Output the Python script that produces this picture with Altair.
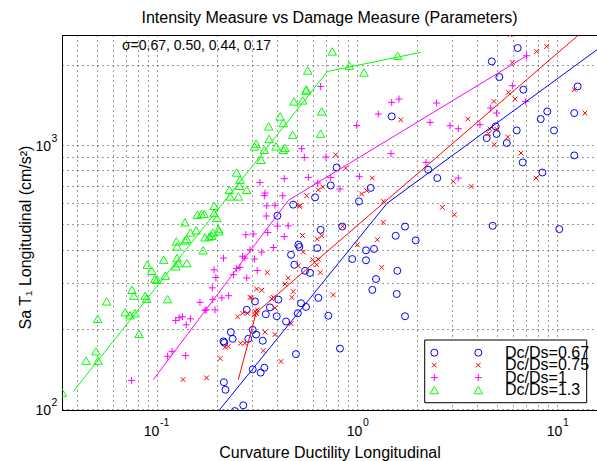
import altair as alt
import pandas as pd

FONT = "Liberation Sans"

# ---------------- data ----------------
blue_x = [6.36, 4.72, 5.15, 6.79, 12.69, 8.94, 8.29, 12.2, 1.491, 9.66, 6.29, 4.94, 4.45, 4.99, 5.61,
          12.2, 6.74, 8.45, 0.791, 2.27, 2.52, 0.739, 0.617, 1.171, 1.023, 1.738, 4.77, 10.27, 0.844,
          0.658, 1.561, 1.966, 0.633, 1.109, 1.216, 0.947, 1.109, 1.591, 0.582, 1.245, 1.193, 1.580,
          0.641, 0.556, 0.719, 1.738, 0.822, 0.480, 0.400, 0.509, 0.515, 0.468, 0.486, 0.550, 0.309,
          0.404, 0.367, 0.350, 0.397, 0.281, 0.525, 0.506, 0.442, 0.301, 0.234, 0.239, 0.286, 0.313,
          0.338, 0.215, 0.217, 0.495, 0.301, 0.330, 0.344, 0.216, 0.220, 0.270, 0.245]
blue_y = [2324, 2068, 1805, 1616, 1663, 1337, 1251, 1318, 1280, 1133, 1133, 1173, 1060, 1098, 1015,
          911, 857, 785, 820, 804, 748, 701, 632, 686, 610, 490, 493, 479, 490,
          476, 452, 434, 406, 398, 403, 369, 365, 333, 327, 310, 282, 272,
          263, 243, 225, 224, 169, 593, 538, 418, 410, 383, 351, 333, 255,
          259, 242, 228, 224, 237, 251, 230, 214, 199, 195, 184, 184, 191,
          181, 180, 178, 161, 141, 137, 143, 126, 118, 103, 98]

red_x = [5.82, 7.91, 8.88, 5.98, 5.71, 6.17, 4.84, 12.2, 13.8, 1.654, 3.58, 4.99, 4.62, 4.54, 5.67,
         4.86, 6.61, 0.782, 0.878, 0.560, 0.641, 0.674, 0.515, 1.193, 3.03, 3.72, 7.85, 1.056, 1.118,
         1.353, 2.67, 3.07, 1.353, 0.848, 0.519, 0.534, 0.633, 0.666, 0.539, 1.003, 1.263, 0.600,
         0.641, 0.629, 0.655, 1.329, 0.761, 0.509, 0.356, 0.453, 0.437, 0.480, 0.315, 0.334, 0.292,
         0.297, 0.382, 0.375, 0.472, 0.253, 0.268, 0.283, 0.309, 0.315, 0.307, 0.317, 0.389, 0.468,
         0.347, 0.389, 0.262, 0.275, 0.219, 0.227, 0.340, 0.207, 0.417, 0.135, 0.177]
red_y = [2610, 2256, 2357, 2050, 1578, 1490, 1459, 1616, 1318, 1243, 1251, 1147, 1147, 1101, 1070,
         1000, 930, 916, 816, 641, 675, 692, 584, 748, 726, 695, 748, 651, 670,
         610, 579, 543, 508, 490, 589, 453, 439, 452, 392, 418, 437, 367,
         368, 351, 328, 343, 270, 348, 328, 313, 297, 278, 284, 281, 264,
         263, 264, 261, 264, 223, 230, 230, 234, 229, 227, 237, 241, 210,
         195, 191, 177, 177, 171, 172, 166, 155, 151, 129, 131]

mag_x = [0.658, 0.529, 0.545, 0.700, 0.571, 0.433, 0.327, 0.636, 0.347, 0.344, 0.425, 0.354, 0.389,
         0.352, 0.453, 0.400, 0.278, 0.303, 0.358, 0.433, 0.382, 0.292, 0.334, 0.215, 0.268, 0.275,
         0.307, 0.260, 0.250, 0.193, 0.317, 0.197, 0.241, 0.281, 0.189, 0.211, 0.228, 0.190, 0.164,
         0.176, 0.195, 0.174, 0.124, 0.129, 0.134, 0.147, 0.140, 0.119, 0.113, 0.139, 0.0747, 7.05,
         5.98, 4.66, 4.99, 6.98, 4.12, 3.21, 2.92, 2.32, 2.50, 1.622, 1.491, 1.278, 0.997, 1.479,
         2.213, 3.21, 1.027, 0.822, 0.739]
mag_y = [1663, 966, 895, 898, 752, 744, 720, 716, 656, 641, 641, 587, 590,
         537, 493, 492, 456, 459, 465, 449, 408, 400, 392, 372, 378, 372,
         369, 343, 340, 336, 334, 314, 322, 313, 287, 263, 268, 259, 253,
         237, 237, 236, 216, 221, 223, 219, 208, 165, 158, 159, 128, 2173,
         1673, 1377, 1318, 1459, 1191, 1150, 1180, 1215, 1439, 1490, 1446, 1307, 1183, 925,
         857, 748, 759, 680, 752]

green_x = [0.752, 0.567, 0.556, 0.558, 0.484, 0.535, 0.666, 0.412, 0.428, 0.362, 0.658, 0.477, 0.364,
           0.313, 0.307, 0.394, 0.437, 0.428, 0.344, 0.331, 0.250, 0.260, 0.258, 0.230, 0.281, 0.232,
           0.255, 0.193, 0.159, 0.167, 0.172, 0.193, 0.199, 0.138, 0.157, 0.147, 0.203, 0.204, 0.190,
           0.174, 0.183, 0.188, 0.138, 0.141, 0.125, 0.126, 0.170, 0.108, 0.126, 0.128, 0.124, 0.141,
           0.0894, 0.0941, 0.0977, 0.100, 0.110, 0.0750, 0.0767, 0.0874, 0.0888, 0.113, 0.0560, 0.0694,
           0.0733, 0.0776, 0.0505, 0.0813, 0.0495, 0.0442, 0.0507, 0.0336, 0.915, 1.598, 1.084]
green_y = [2256, 1911, 1602, 1620, 1459, 1472, 1337, 1280, 1208, 1173, 1101, 1091, 1051,
           1009, 985, 985, 972, 957, 957, 877, 785, 737, 699, 675, 675, 637,
           637, 587, 543, 547, 547, 551, 528, 508, 474, 465, 479, 470, 465,
           446, 449, 452, 434, 439, 430, 412, 398, 367, 372, 356, 346, 356,
           351, 333, 310, 308, 319, 282, 268, 268, 261, 260, 255, 232,
           226, 230, 219, 192, 165, 152, 152, 115, 1992, 2173, 1878]

# fitted (bilinear) curves: start, knee, end
blue_fit_x = [0.2025, 1.413, 15.85]
blue_fit_y = [97.7, 600, 2290]
red_fit_x = [0.255, 0.313, 12.78]
red_fit_y = [128.8, 231, 2600]
mag_fit_x = [0.0958, 0.453, 7.05]
mag_fit_y = [128.8, 615, 2173]
green_fit_x = [0.0382, 0.712, 2.082]
green_fit_y = [116.3, 1895, 2237]

series_names = ["Dc/Ds=0.67", "Dc/Ds=0.75", "Dc/Ds=1", "Dc/Ds=1.3"]
sigma_text = ["σ=0.67, 0.50, 0.44, 0.17"]
sigma_x = [0.0668]
sigma_y = [2371]

x_domain = [0.0335, 15.85]
y_domain = [98.9, 2604]
x_grid = [0.04, 0.05, 0.06, 0.07, 0.08, 0.09, 0.1, 0.2, 0.3, 0.4, 0.5, 0.6, 0.7, 0.8, 0.9,
          1, 2, 3, 4, 5, 6, 7, 8, 9, 10]
y_grid = [100, 200, 300, 400, 500, 600, 700, 800, 900, 1000, 2000]
x_decades = [0.1, 1, 10]
x_exps = ["-1", "0", "1"]
y_decades = [100, 1000]
y_exps = ["2", "3"]

# ---------------- styles ----------------
colors = ["#0000ff", "#ff0000", "#ff00ff", "#00ff00"]
X_PATH = "M-1,-1L1,1M1,-1L-1,1"
PLUS_PATH = "M-1,0L1,0M0,-1L0,1"
shapes = ["circle", X_PATH, PLUS_PATH, "triangle-up"]
sizes = [49, 22, 49, 72]

W, H = 535, 375

xscale = alt.Scale(type="log", domain=x_domain, nice=False)
yscale = alt.Scale(type="log", domain=y_domain, nice=False)
xaxis = alt.Axis(values=x_grid, labels=False, ticks=False, grid=True, gridColor="#333333",
                 gridDash=[1, 4], gridWidth=1, domainColor="black", domainWidth=1,
                 title="Curvature Ductility Longitudinal", titleFont=FONT, titleFontSize=16,
                 titleFontWeight="normal", titleColor="black", titleX=W / 2, titleY=42,
                 titleAlign="center", titleBaseline="middle")
yaxis = alt.Axis(values=y_grid, labels=False, ticks=False, grid=True, gridColor="#333333",
                 gridDash=[1, 4], gridWidth=1, domainColor="black", domainWidth=1,
                 title="Sa T\u2081 Longitudinal (cm/s\u00b2)", titleFont=FONT, titleFontSize=16,
                 titleFontWeight="normal", titleColor="black", titleX=-37, titleY=202,
                 titleAlign="center", titleBaseline="middle")


def X(field="x"):
    return alt.X(f"{field}:Q", scale=xscale, axis=xaxis)


def Y(field="y"):
    return alt.Y(f"{field}:Q", scale=yscale, axis=yaxis)


layers = []
pts = [(blue_x, blue_y), (red_x, red_y), (mag_x, mag_y), (green_x, green_y)]
for i, (xs, ys) in enumerate(pts):
    df = pd.DataFrame({"x": xs, "y": ys, "series": series_names[i]})
    layers.append(
        alt.Chart(df).mark_point(shape=shapes[i], size=sizes[i], color=colors[i], filled=False,
                                 strokeWidth=1, clip=True, opacity=1)
        .encode(x=X(), y=Y())
    )

fits = [(blue_fit_x, blue_fit_y), (red_fit_x, red_fit_y), (mag_fit_x, mag_fit_y),
        (green_fit_x, green_fit_y)]
for i, (xs, ys) in enumerate(fits):
    df = pd.DataFrame({"x": xs, "y": ys})
    layers.append(
        alt.Chart(df).mark_line(color=colors[i], strokeWidth=1, clip=True)
        .encode(x=X(), y=Y())
    )

# tick labels drawn as base "10" + superscript exponent (MATLAB style)
for v, e in zip(x_decades, x_exps):
    df = pd.DataFrame({"x": [v], "b": ["10"], "e": [e]})
    off = 5.3 - 3.0 * (len(e) - 1)
    layers.append(alt.Chart(df).mark_text(align="right", baseline="middle", font=FONT, fontSize=14,
                                          dx=off, color="black")
                  .encode(x=X(), y=alt.value(H + 21.7), text="b:N"))
    layers.append(alt.Chart(df).mark_text(align="left", baseline="middle", font=FONT, fontSize=10.5,
                                          dx=off + 0.7, color="black")
                  .encode(x=X(), y=alt.value(H + 13), text="e:N"))
for v, e in zip(y_decades, y_exps):
    df = pd.DataFrame({"y": [v], "b": ["10"], "e": [e]})
    layers.append(alt.Chart(df).mark_text(align="right", baseline="middle", font=FONT, fontSize=14,
                                          dy=2, color="black")
                  .encode(y=Y(), x=alt.value(-11), text="b:N"))
    layers.append(alt.Chart(df).mark_text(align="left", baseline="middle", font=FONT, fontSize=10.5,
                                          dy=-6, color="black")
                  .encode(y=Y(), x=alt.value(-10.5), text="e:N"))

# sigma annotation
sig_df = pd.DataFrame({"x": sigma_x, "y": sigma_y, "t": sigma_text})
layers.append(alt.Chart(sig_df).mark_text(align="left", baseline="middle", font=FONT, fontSize=14,
                                          color="black")
              .encode(x=X(), y=Y(), text="t:N"))

# legend box (MATLAB style: two markers + label per row)
box_df = pd.DataFrame({"k": [0]})
layers.append(alt.Chart(box_df).mark_rect(fill="white", stroke="black", strokeWidth=1)
              .encode(x=alt.value(362.7), x2=alt.value(524.7), y=alt.value(305), y2=alt.value(367.7)))
for i, name in enumerate(series_names):
    ldf = pd.DataFrame({"label": [name]})
    yy = 317.7 + 12.45 * i
    for xx in (372.3, 416.3):
        layers.append(alt.Chart(ldf).mark_point(shape=shapes[i], size=sizes[i], color=colors[i],
                                                filled=False, strokeWidth=1, opacity=1)
                      .encode(x=alt.value(xx), y=alt.value(yy)))
    layers.append(alt.Chart(ldf).mark_text(align="left", baseline="middle", font=FONT, fontSize=16,
                                           color="black")
                  .encode(x=alt.value(443), y=alt.value(yy), text="label:N"))

chart = alt.layer(*layers).properties(
    width=W, height=H,
    title=alt.TitleParams("Intensity Measure vs Damage Measure (Parameters)", font=FONT, fontSize=16,
                          fontWeight="normal", anchor="middle", offset=9, color="black"),
    autosize=alt.AutoSizeParams(type="none"),
    padding={"left": 62, "top": 35, "right": 0, "bottom": 51},
    background="white",
).configure_view(stroke="black", strokeWidth=1)

chart.save("out.html", embed_options={"renderer": "svg", "actions": False})
